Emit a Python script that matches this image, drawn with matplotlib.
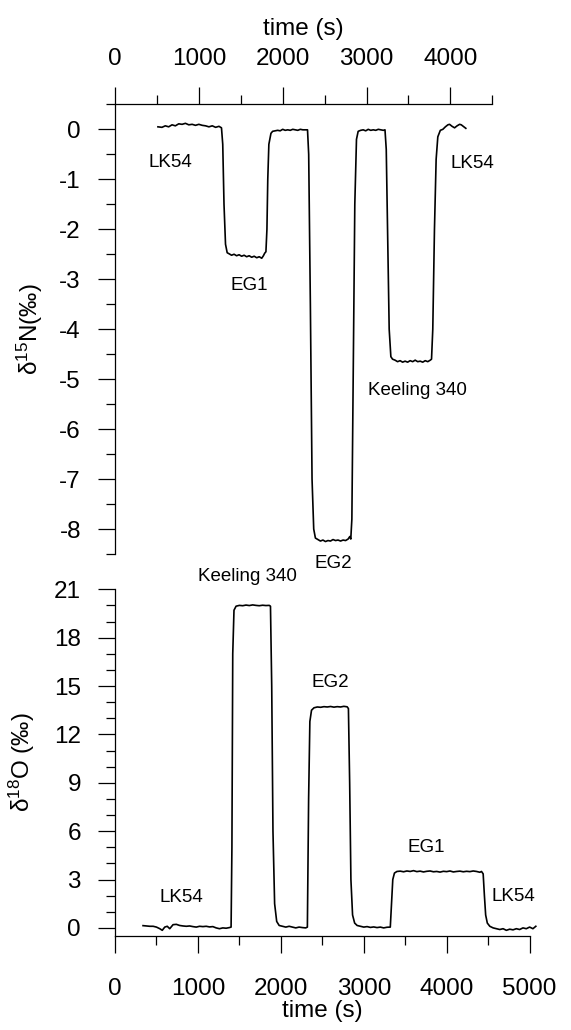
import matplotlib
matplotlib.use('Agg')
import matplotlib.pyplot as plt
from matplotlib.ticker import MultipleLocator

plt.rcParams['font.family'] = ['Liberation Sans', 'DejaVu Sans']
plt.rcParams['mathtext.fontset'] = 'custom'
plt.rcParams['mathtext.rm'] = 'Liberation Sans'
plt.rcParams['mathtext.it'] = 'Liberation Sans:italic'
plt.rcParams['axes.unicode_minus'] = False

# d15N trace (top panel): time (s), value (permil)
n15_t = [512, 560, 600, 640, 680, 720, 760, 800, 840, 880, 920, 960, 1000, 1040, 1080,
         1120, 1160, 1200, 1240, 1270, 1285, 1300, 1318, 1338,
         1360, 1390, 1420, 1450, 1480, 1510, 1540, 1570, 1600, 1630, 1660, 1690, 1720,
         1750, 1770, 1785, 1800, 1812, 1822, 1835, 1860, 1880,
         1910, 1940, 1970, 2000, 2030, 2060, 2090, 2120, 2150, 2180, 2210, 2240, 2270, 2296,
         2310, 2330, 2350, 2370, 2390,
         2420, 2450, 2480, 2510, 2540, 2570, 2600, 2630, 2660, 2690, 2720, 2750, 2780, 2800, 2812,
         2825, 2840, 2860, 2880, 2900,
         2930, 2960, 2990, 3020, 3050, 3080, 3110, 3140, 3170, 3200, 3220,
         3235, 3250, 3270, 3290, 3310,
         3340, 3370, 3400, 3430, 3460, 3490, 3520, 3550, 3580, 3610, 3640, 3670, 3700, 3730, 3760, 3775,
         3790, 3810, 3830, 3850, 3880,
         3910, 3940, 3970, 3990, 4020, 4050, 4080, 4110, 4130, 4160, 4184]
n15_v = [0.05, 0.04, 0.07, 0.05, 0.09, 0.07, 0.11, 0.10, 0.12, 0.09, 0.10, 0.08, 0.10, 0.08, 0.07,
         0.05, 0.07, 0.04, 0.06, 0.03, -0.3, -1.5, -2.3, -2.47,
         -2.49, -2.52, -2.50, -2.53, -2.51, -2.54, -2.52, -2.55, -2.53, -2.56, -2.54, -2.57, -2.55,
         -2.58, -2.53, -2.48, -2.45, -2.0, -1.0, -0.3, -0.08, -0.04,
         -0.03, -0.02, -0.03, 0.0, -0.02, -0.01, -0.02, 0.0, -0.01, -0.02, 0.0, -0.01, -0.01, -0.01,
         -0.5, -3.5, -7.0, -8.0, -8.18,
         -8.21, -8.24, -8.22, -8.25, -8.23, -8.24, -8.21, -8.23, -8.22, -8.24, -8.22, -8.23, -8.20, -8.15, -8.20,
         -7.8, -5.0, -1.5, -0.2, -0.04,
         -0.02, -0.01, -0.03, 0.0, -0.02, -0.01, -0.02, 0.0, -0.01, -0.02, -0.01,
         -0.4, -2.0, -4.0, -4.55, -4.60,
         -4.62, -4.65, -4.63, -4.66, -4.64, -4.66, -4.63, -4.65, -4.62, -4.65, -4.64, -4.66, -4.63, -4.65, -4.62, -4.60,
         -4.0, -2.0, -0.6, -0.15, -0.02,
         0.0, 0.05, 0.09, 0.10, 0.06, 0.03, 0.07, 0.10, 0.09, 0.05, 0.02]

# d18O trace (bottom panel)
o18_t = [338, 380, 420, 460, 500, 540, 570, 600, 630, 660, 700, 740, 780, 820, 860, 900, 940,
         980, 1020, 1060, 1100, 1140, 1180, 1220, 1260, 1300, 1340, 1380, 1400,
         1410, 1420, 1435, 1460,
         1500, 1540, 1580, 1620, 1660, 1700, 1740, 1780, 1820, 1860, 1875,
         1890, 1905, 1925, 1950, 1980, 2020, 2060, 2100, 2140, 2180, 2220, 2260, 2300, 2320,
         2335, 2350, 2370, 2400,
         2440, 2480, 2520, 2560, 2600, 2640, 2680, 2720, 2760, 2800, 2815,
         2830, 2845, 2865, 2890, 2920, 2960, 3000, 3040, 3080, 3120, 3160, 3200, 3240, 3280, 3320,
         3335, 3350, 3370, 3400,
         3440, 3480, 3520, 3560, 3600, 3640, 3680, 3720, 3760, 3800, 3840, 3880, 3920, 3960,
         4000, 4040, 4080, 4120, 4160, 4200, 4240, 4280, 4320, 4360, 4400, 4420, 4440,
         4455, 4470, 4490, 4520,
         4560, 4600, 4640, 4680, 4720, 4760, 4800, 4840, 4880, 4920, 4960, 5000, 5040, 5075]
o18_v = [0.14, 0.12, 0.10, 0.10, 0.05, -0.05, -0.15, 0.05, 0.10, -0.05, 0.20, 0.22, 0.15, 0.12, 0.10, 0.12, 0.08,
         0.05, 0.10, 0.08, 0.10, 0.06, 0.08, 0.0, -0.05, 0.0, -0.02, 0.02, 0.05,
         5.0, 17.0, 19.7, 19.95,
         20.0, 19.98, 20.02, 19.99, 20.03, 20.0, 19.98, 20.01, 19.99, 20.0, 19.95,
         15.0, 6.0, 1.5, 0.4, 0.15, 0.10, 0.05, 0.10, 0.05, 0.0, 0.05, 0.02, 0.0, 0.05,
         8.0, 12.8, 13.5, 13.65,
         13.70, 13.68, 13.72, 13.70, 13.73, 13.69, 13.72, 13.70, 13.74, 13.71, 13.60,
         9.0, 3.0, 0.8, 0.3, 0.15, 0.10, 0.05, 0.08, 0.03, 0.06, 0.02, 0.05, 0.0, 0.04, 0.05,
         1.5, 3.0, 3.4, 3.50,
         3.52, 3.48, 3.53, 3.50, 3.55, 3.49, 3.52, 3.47, 3.51, 3.53, 3.48, 3.50, 3.46, 3.51,
         3.49, 3.53, 3.47, 3.50, 3.52, 3.48, 3.51, 3.49, 3.53, 3.50, 3.45, 3.50, 3.35,
         2.0, 0.8, 0.3, 0.10,
         0.0, -0.05, -0.10, -0.05, -0.15, -0.08, -0.12, -0.05, -0.10, 0.0, -0.05, 0.05, -0.05, 0.10]

fig = plt.figure(figsize=(5.71, 10.30), dpi=100)
ax1 = fig.add_axes([0.2014, 0.4621, 0.6608, 0.4366])
ax2 = fig.add_axes([0.2014, 0.0913, 0.7261, 0.3366])

lw_trace = 1.2
tick_kw = dict(direction='out', width=0.9, labelsize=17.5)

# top panel
ax1.plot(n15_t, n15_v, color='black', lw=lw_trace)
ax1.set_xlim(0, 4500)
ax1.set_ylim(-8.5, 0.5)
ax1.spines['bottom'].set_visible(False)
ax1.spines['right'].set_visible(False)
for s in ['top', 'left']:
    ax1.spines[s].set_linewidth(0.9)
ax1.xaxis.tick_top()
ax1.xaxis.set_label_position('top')
ax1.xaxis.set_major_locator(MultipleLocator(1000))
ax1.xaxis.set_minor_locator(MultipleLocator(500))
ax1.yaxis.set_major_locator(MultipleLocator(1))
ax1.yaxis.set_minor_locator(MultipleLocator(0.5))
ax1.tick_params(axis='x', which='major', length=12.5, pad=12, **tick_kw)
ax1.tick_params(axis='x', which='minor', length=6.7, width=0.9, direction='out')
ax1.tick_params(axis='y', which='major', length=12.5, pad=12, **tick_kw)
ax1.tick_params(axis='y', which='minor', length=6.7, width=0.9, direction='out')
ax1.set_xlabel('time (s)', fontsize=17.5)
ax1.xaxis.set_label_coords(0.5, 1.154)
ax1.set_ylabel(r'δ$^{\mathrm{15}}$N(‰)', fontsize=17.5)
ax1.yaxis.set_label_coords(-0.1855, 0.5)

ax1.text(665, -0.66, 'LK54', fontsize=13.5, ha='center', va='center')
ax1.text(4264, -0.68, 'LK54', fontsize=13.5, ha='center', va='center')
ax1.text(1597, -3.12, 'EG1', fontsize=13.5, ha='center', va='center')
ax1.text(2600, -8.68, 'EG2', fontsize=13.5, ha='center', va='center')
ax1.text(3604, -5.22, 'Keeling 340', fontsize=13.5, ha='center', va='center')

# bottom panel
ax2.plot(o18_t, o18_v, color='black', lw=lw_trace, clip_on=False)
ax2.set_xlim(0, 5000)
ax2.set_ylim(-0.5, 21)
ax2.spines['top'].set_visible(False)
ax2.spines['right'].set_visible(False)
for s in ['bottom', 'left']:
    ax2.spines[s].set_linewidth(0.9)
ax2.xaxis.set_major_locator(MultipleLocator(1000))
ax2.xaxis.set_minor_locator(MultipleLocator(500))
ax2.yaxis.set_major_locator(MultipleLocator(3))
ax2.yaxis.set_minor_locator(MultipleLocator(1))
ax2.tick_params(axis='x', which='major', length=12.5, pad=18, **tick_kw)
ax2.tick_params(axis='x', which='minor', length=6.7, width=0.9, direction='out')
ax2.tick_params(axis='y', which='major', length=12.5, pad=12, **tick_kw)
ax2.tick_params(axis='y', which='minor', length=6.7, width=0.9, direction='out')
ax2.set_xlabel('time (s)', fontsize=17.5)
ax2.xaxis.set_label_coords(0.5, -0.1846)
ax2.set_ylabel(r'δ$^{\mathrm{18}}$O (‰)', fontsize=17.5)
ax2.yaxis.set_label_coords(-0.188, 0.5)

ax2.text(1598, 21.8, 'Keeling 340', fontsize=13.5, ha='center', va='center')
ax2.text(2594, 15.2, 'EG2', fontsize=13.5, ha='center', va='center')
ax2.text(3752, 4.97, 'EG1', fontsize=13.5, ha='center', va='center')
ax2.text(796, 1.88, 'LK54', fontsize=13.5, ha='center', va='center')
ax2.text(4801, 1.94, 'LK54', fontsize=13.5, ha='center', va='center')

fig.savefig('out.png', dpi=100)
